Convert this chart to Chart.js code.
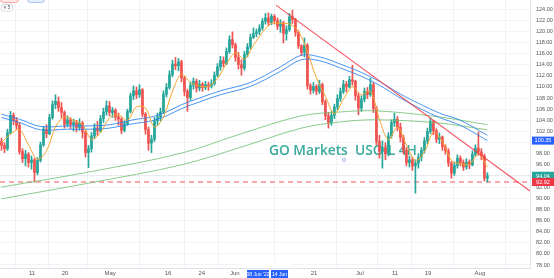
<!DOCTYPE html>
<html>
<head>
<meta charset="utf-8">
<script src="https://cdn.jsdelivr.net/npm/chart.js@4.4.0/dist/chart.umd.min.js"></script>
<style>
  html, body { margin: 0; padding: 0; background: #fff; overflow: hidden; }
  canvas { display: block; }
</style>
</head>
<body>
<canvas id="chart" width="554" height="278"></canvas>
<script>
/* ===== data: USOIL 4H candles (index = candle number) ===== */
const firstOpen = 100.2;
const closes = [
  99.5, 98.9, 101.8, 104.9, 104.0, 103.1, 98.4, 97.1, 97.9, 96.4,
  96.9, 94.6, 96.8, 99.6, 102.4, 101.6, 104.5, 106.8, 107.4, 106.3,
  105.4, 103.3, 104.1, 103.2, 103.6, 102.7, 103.5, 101.9, 98.2, 98.9,
  101.2, 102.6, 102.1, 104.3, 105.5, 106.6, 105.4, 105.8, 104.6, 104.2,
  102.2, 103.4, 105.6, 108.4, 109.3, 108.6, 109.5, 105.1, 102.3, 99.9,
  100.6, 103.9, 104.6, 105.5, 108.7, 109.9, 112.2, 114.1, 113.8, 114.5,
  111.6, 109.2, 108.1, 110.3, 111.0, 109.8, 110.5, 109.9, 110.4, 110.1,
  110.6, 112.1, 113.6, 114.7, 114.2, 116.4, 118.5, 117.6, 115.3, 114.0,
  113.4, 115.8, 117.2, 118.9, 119.6, 119.9, 120.6, 121.8, 122.4, 121.6,
  122.7, 121.9, 120.9, 121.5, 119.6, 120.3, 122.6, 122.1, 119.8, 117.4,
  116.2, 117.5, 110.2, 109.4, 110.1, 109.2, 110.4, 107.3, 104.8, 103.6,
  104.9, 106.4, 107.9, 109.2, 110.5, 110.0, 111.3, 111.0, 108.4, 106.2,
  107.8, 109.2, 108.6, 110.4, 106.1, 100.2, 98.4, 99.1, 98.0, 101.2,
  103.6, 104.2, 102.8, 100.9, 98.6, 96.4, 96.9, 95.8, 96.3, 97.4,
  98.6, 100.3, 102.0, 103.8, 102.1, 100.6, 101.0, 99.2, 98.5, 96.3,
  94.5, 95.9, 97.2, 96.4, 95.6, 96.5, 96.0, 97.9, 99.0, 98.3,
  97.6, 93.6, 94.04
];
const highs = [
  100.8, 100.0, 102.4, 105.6, 105.3, 104.5, 103.6, 98.9, 98.6, 98.2,
  97.6, 97.2, 97.3, 100.1, 102.9, 103.2, 105.1, 107.5, 108.6, 108.2,
  107.2, 105.7, 104.8, 104.5, 104.2, 104.0, 104.3, 103.8, 102.1, 99.5,
  101.8, 103.4, 103.8, 104.9, 106.2, 107.5, 107.4, 106.3, 106.1, 105.3,
  104.5, 103.9, 106.0, 108.9, 110.2, 110.0, 110.4, 109.7, 105.4, 102.8,
  101.3, 104.5, 105.3, 106.2, 109.3, 110.6, 112.9, 114.8, 115.3, 115.1,
  114.8, 111.9, 109.6, 110.9, 111.6, 111.4, 111.2, 110.8, 111.0, 110.9,
  111.3, 112.7, 114.2, 115.5, 115.4, 117.0, 119.2, 119.9, 117.9, 116.2,
  114.9, 116.4, 117.8, 119.5, 120.6, 120.4, 121.2, 122.3, 123.2, 123.3,
  123.1, 123.0, 122.4, 122.1, 121.8, 121.0, 123.2, 123.8, 122.3, 120.1,
  117.6, 118.8, 117.8, 110.6, 110.8, 110.4, 111.2, 110.7, 107.7, 105.4,
  105.6, 106.9, 108.6, 109.8, 111.2, 111.0, 111.9, 113.9, 111.2, 108.9,
  108.4, 109.8, 109.9, 111.6, 110.8, 106.5, 101.3, 100.3, 100.0, 101.8,
  104.1, 105.3, 104.7, 103.5, 101.3, 99.1, 97.6, 97.4, 96.9, 98.0,
  99.1, 100.9, 102.6, 104.4, 104.0, 102.5, 101.7, 101.2, 99.6, 98.9,
  96.6, 96.5, 97.8, 97.6, 96.9, 97.1, 96.9, 98.5, 99.6, 101.9,
  98.9, 97.9, 94.6
];
const lows = [
  98.6, 98.2, 98.6, 101.5, 103.2, 102.4, 97.9, 96.4, 95.8, 95.6,
  95.2, 92.9, 94.2, 96.5, 99.3, 100.9, 101.4, 104.2, 106.1, 105.6,
  104.4, 102.6, 102.8, 102.5, 102.1, 101.9, 102.2, 100.8, 97.4, 95.5,
  98.3, 100.7, 101.3, 101.8, 103.6, 104.9, 104.8, 104.5, 104.0, 103.1,
  101.6, 101.9, 103.1, 105.3, 107.7, 107.9, 108.1, 104.6, 101.5, 98.6,
  98.2, 100.2, 103.1, 103.9, 105.2, 108.2, 109.6, 111.8, 113.1, 112.9,
  110.9, 108.4, 105.6, 107.6, 109.6, 109.1, 109.3, 109.2, 109.5, 109.4,
  109.8, 110.3, 111.8, 113.0, 113.6, 114.0, 116.0, 117.0, 114.6, 113.2,
  112.1, 113.0, 115.4, 116.8, 118.7, 119.0, 119.4, 120.2, 121.3, 121.0,
  121.2, 121.3, 120.3, 119.8, 117.9, 118.4, 120.0, 121.4, 119.1, 116.9,
  115.6, 115.4, 109.6, 108.7, 108.9, 108.6, 108.8, 106.8, 104.1, 102.6,
  103.1, 104.3, 105.9, 107.4, 108.8, 109.1, 109.8, 110.3, 107.6, 105.0,
  105.6, 107.3, 107.9, 108.3, 105.4, 99.6, 97.2, 95.4, 96.9, 97.6,
  100.8, 102.9, 102.1, 100.1, 98.0, 95.8, 95.6, 95.0, 90.9, 95.4,
  96.7, 98.1, 99.8, 101.6, 101.4, 100.0, 99.8, 98.6, 97.9, 95.7,
  93.6, 94.1, 95.4, 95.8, 95.0, 95.2, 95.3, 95.8, 97.5, 97.7,
  96.9, 93.1, 92.9
];

// moving averages (x = candle number)
const fastIdx = [0, 3, 6, 9, 12, 15, 18, 21, 24, 27, 30, 33, 36, 39, 42, 45, 48, 51, 54, 57,
  60, 63, 66, 69, 72, 75, 78, 81, 84, 87, 90, 93, 96, 99, 102, 105, 108, 111, 114, 117,
  120, 123, 126, 129, 132, 135, 138, 141, 144, 147, 150, 153, 156, 159, 162];
const fastMA = [100.0, 101.5, 102.3, 99.6, 97.0, 98.5, 102.8, 104.6, 104.0, 103.2,
  100.6, 101.8, 104.4, 105.0, 104.0, 106.4, 106.2, 102.8, 104.6, 109.2,
  112.3, 110.8, 110.2, 110.1, 111.5, 114.2, 116.1, 115.0, 117.5, 119.8,
  121.4, 121.4, 121.3, 120.0, 116.3, 111.6, 108.3, 105.2, 107.8, 110.0,
  108.6, 109.2, 104.2, 100.5, 102.8, 99.6, 96.8, 98.3, 101.8, 100.2,
  96.8, 96.2, 96.1, 97.9, 95.6];

const blueIdx = [0, 6, 13, 22, 29, 36, 44, 50, 55, 60, 66, 73, 83, 93, 100, 106, 113,
  120, 126, 133, 140, 146, 153, 162];
const blueUpper = [105.1, 104.2, 102.9, 103.0, 103.0, 103.2, 104.1, 104.6, 105.5, 106.8,
  108.0, 109.3, 110.8, 113.6, 115.7, 115.4, 114.1, 112.6, 111.0, 108.7,
  106.8, 105.3, 104.0, 101.3];
const blueLower = [104.5, 103.6, 102.3, 102.4, 102.4, 102.6, 103.4, 103.9, 104.8, 106.1,
  107.3, 108.6, 110.1, 112.8, 114.9, 114.7, 113.4, 111.9, 110.3, 108.0,
  106.0, 104.5, 103.1, 100.35];

const greenIdx = [0, 30, 60, 80, 100, 113, 125, 146, 162];
const greenUpper = [92.0, 94.8, 98.1, 101.6, 104.8, 105.5, 105.7, 104.6, 103.2];
const greenLower = [89.9, 92.8, 96.0, 99.2, 102.6, 103.7, 104.1, 103.5, 102.3];

const trendIdx = [91.5, 176.2];
const trendVals = [124.7, 91.3];

const lastPrice = 94.04;
const supportLevel = 92.92;
const blueLast = 100.35;

const dateTicks = [10.2, 21.2, 36.2, 55.5, 66.8, 77.8, 104.2, 119.5, 131.2, 142.2, 159.5];
const dateLabels = ['11', '20', 'May', '16', '24', 'Jun', '21', 'Jul', '11', '19', 'Aug'];

const X_MIN = -0.5, X_MAX = 176.2;
const Y_MIN = 77.46, Y_MAX = 125.62;

/* ===== build datasets ===== */
const UP = '#26a69a', DOWN = '#ef5350';
const opens = [firstOpen].concat(closes.slice(0, -1));
const candleColor = closes.map((c, i) => c >= opens[i] ? UP : DOWN);

const wickData = closes.map((c, i) => ({ x: i, y: [lows[i], highs[i]] }));
const bodyData = closes.map((c, i) => ({ x: i, y: [opens[i], c] }));

const pts = (xs, ys) => xs.map((x, i) => ({ x: x, y: ys[i] }));

function lineSet(data, color, width, extra) {
  return Object.assign({
    type: 'line', data: data, borderColor: color, borderWidth: width,
    pointRadius: 0, fill: false, tension: 0.35, order: 0
  }, extra || {});
}

/* ===== overlays: watermark, badges, legend stubs ===== */
const overlayPlugin = {
  id: 'overlay',
  beforeDatasetsDraw(chart) {
    const c = chart.ctx;
    const text = 'GO Markets  USOIL 4H';
    c.save();
    c.font = '600 16px "Open Sans"';
    const w = c.measureText(text).width;
    const size = 16 * 148 / w;
    c.font = '600 ' + size.toFixed(2) + 'px "Open Sans"';
    c.fillStyle = 'rgba(34,160,145,0.9)';
    c.textBaseline = 'alphabetic';
    c.fillText(text, 269, 155);
    c.beginPath();
    c.arc(344, 160, 1.6, 0, Math.PI * 2);
    c.strokeStyle = '#8fa6e8';
    c.lineWidth = 0.8;
    c.stroke();
    c.restore();
  },
  afterDraw(chart) {
    const c = chart.ctx;
    const y = chart.scales.y;
    const right = chart.chartArea.right;
    c.save();
    // price badges on the right axis
    const badges = [[blueLast, '#2962ff'], [lastPrice, '#26a69a'], [supportLevel, '#f23645']];
    c.font = '5.5px "Liberation Sans"';
    c.textAlign = 'center';
    c.textBaseline = 'middle';
    badges.forEach(b => {
      const py = y.getPixelForValue(b[0]);
      c.fillStyle = b[1];
      c.fillRect(right + 2, py - 4, 22, 8);
      c.fillStyle = '#fff';
      c.fillText(b[0].toFixed(2), right + 13, py + 0.3);
    });
    // crosshair time label on the x axis
    c.fillStyle = '#fff';
    c.fillRect(240, 262, 52, 6);
    c.fillStyle = '#2962ff';
    c.fillRect(247, 270, 22, 8);
    c.fillRect(271, 270, 17, 8);
    c.fillStyle = '#fff';
    c.font = '5px "Liberation Sans"';
    c.fillText("08 Jun '22", 258, 274.3);
    c.fillText('14 Jun', 279.5, 274.3);
    // legend stubs top-left
    c.lineWidth = 1;
    c.fillStyle = '#fde8e8';
    c.strokeStyle = '#f5a3a3';
    c.beginPath(); c.roundRect(0.5, -4, 18, 6.5, 3); c.fill(); c.stroke();
    c.fillStyle = '#e6edfd';
    c.strokeStyle = '#a9c0f5';
    c.beginPath(); c.roundRect(27.5, -4, 17, 6.5, 3); c.fill(); c.stroke();
    c.fillStyle = '#fff';
    c.strokeStyle = '#d5d8de';
    c.beginPath(); c.roundRect(1.5, 4.5, 11, 6.5, 1.5); c.fill(); c.stroke();
    c.fillStyle = '#555';
    c.font = '4.5px "Liberation Sans"';
    c.fillText('\u2261 5', 7, 8);
    c.restore();
  }
};

new Chart(document.getElementById('chart'), {
  type: 'bar',
  data: {
    datasets: [
      lineSet(pts(trendIdx, trendVals), 'rgba(242,54,69,0.85)', 1.1, { tension: 0 }),
      lineSet(pts([X_MIN, X_MAX], [supportLevel, supportLevel]), 'rgba(242,90,100,0.7)', 1.4,
        { tension: 0, borderDash: [5, 4], order: 3 }),
      lineSet(pts([X_MIN, X_MAX], [lastPrice, lastPrice]), 'rgba(150,155,165,0.45)', 0.8,
        { tension: 0, borderDash: [1, 2], order: 3 }),
      lineSet(pts(fastIdx, fastMA), '#f6a52e', 1),
      lineSet(pts(blueIdx, blueUpper), 'rgba(41,130,240,0.85)', 1),
      lineSet(pts(blueIdx, blueLower), 'rgba(41,130,240,0.85)', 1),
      lineSet(pts(greenIdx, greenUpper), 'rgba(110,190,110,0.8)', 1),
      lineSet(pts(greenIdx, greenLower), 'rgba(110,190,110,0.8)', 1),
      {
        type: 'bar', data: wickData, backgroundColor: candleColor,
        barThickness: 1, grouped: false, order: 2
      },
      {
        type: 'bar', data: bodyData, backgroundColor: candleColor,
        barThickness: 2, minBarLength: 1, grouped: false, order: 1
      }
    ]
  },
  options: {
    responsive: false,
    animation: false,
    devicePixelRatio: 1,
    layout: { padding: 0 },
    plugins: { legend: { display: false }, tooltip: { enabled: false } },
    scales: {
      x: {
        type: 'linear', min: X_MIN, max: X_MAX, offset: false,
        grid: { color: '#f0f2f5', drawTicks: false },
        border: { color: '#e0e3eb' },
        afterBuildTicks: s => { s.ticks = dateTicks.map(v => ({ value: v })); },
        afterFit: s => { s.height = 10; s.paddingLeft = 0; s.paddingRight = 0; },
        ticks: {
          autoSkip: false, maxRotation: 0, includeBounds: false, padding: 2,
          font: { size: 6, family: '"Liberation Sans"' }, color: '#555',
          callback: (v, i) => dateLabels[i]
        }
      },
      y: {
        position: 'right', min: Y_MIN, max: Y_MAX,
        grid: { color: '#f2f3f6', drawTicks: false },
        border: { color: '#e0e3eb' },
        afterFit: s => { s.width = 24; s.paddingTop = 0; s.paddingBottom = 0; },
        ticks: {
          stepSize: 2, includeBounds: false, padding: 6,
          font: { size: 5.5, family: '"Liberation Sans"' }, color: '#555',
          callback: v => v.toFixed(2)
        }
      }
    }
  },
  plugins: [overlayPlugin]
});
</script>
</body>
</html>
